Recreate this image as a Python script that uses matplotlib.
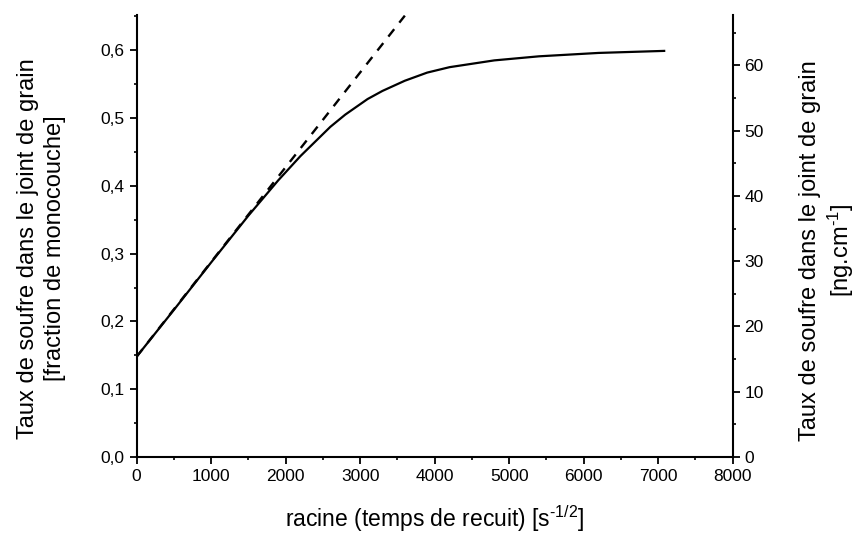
import numpy as np
import matplotlib
matplotlib.use("Agg")
from matplotlib import pyplot as plt
from matplotlib.ticker import MultipleLocator, FuncFormatter

# data
temps = [0, 500, 1000, 1500, 1900, 2200, 2600, 2800, 3100, 3300, 3600, 3900, 4200, 4800, 5400, 6200, 7080]
taux = [0.148, 0.217, 0.287, 0.356, 0.408, 0.444, 0.487, 0.505, 0.528, 0.540, 0.555, 0.567, 0.575, 0.585, 0.591, 0.596, 0.599]
tangente_x = [0, 3600]
tangente_y = [0.148, 0.651]

plt.rcParams['font.family'] = ['Liberation Sans', 'DejaVu Sans']
plt.rcParams['mathtext.default'] = 'regular'

fig = plt.figure(figsize=(8.59, 5.34), dpi=100)
ax = fig.add_axes([0.159, 0.144, 0.694, 0.828])
ax2 = ax.twinx()

ax.plot(temps, taux, color='black', lw=1.6)
ax.plot(tangente_x, tangente_y, color='black', lw=1.7, dashes=(4, 3.5))

ax.set_xlim(0, 8000)
ax.set_ylim(0, 0.652)
ax2.set_ylim(0, 67.7)

ax.xaxis.set_major_locator(MultipleLocator(1000))
ax.xaxis.set_minor_locator(MultipleLocator(500))
ax.yaxis.set_major_locator(MultipleLocator(0.1))
ax.yaxis.set_minor_locator(MultipleLocator(0.05))
ax.yaxis.set_major_formatter(FuncFormatter(lambda v, p: f"{v:.1f}".replace('.', ',')))
ax2.yaxis.set_major_locator(MultipleLocator(10))
ax2.yaxis.set_minor_locator(MultipleLocator(5))

for a in (ax, ax2):
    a.spines['top'].set_visible(False)
    for s in a.spines.values():
        s.set_linewidth(1.5)
    a.tick_params(which='major', length=5, width=1.3, labelsize=12.5, direction='out')
    a.tick_params(which='minor', length=2.5, width=1.2, direction='out')
ax.spines['right'].set_visible(False)
ax2.spines['left'].set_visible(False)
ax2.spines['bottom'].set_visible(False)

ax.set_xlabel("racine (temps de recuit) [s$^{\u2010 1/2}$]", fontsize=16.5)
ax.set_ylabel("Taux de soufre dans le joint de grain\n[fraction de monocouche]",
              fontsize=17, linespacing=1.3)
ax2.set_ylabel("Taux de soufre dans le joint de grain\n[ng.cm$^{\u2010 1}$]",
               fontsize=17, linespacing=1.2)
ax.xaxis.set_label_coords(0.5, -0.105)
ax.yaxis.set_label_coords(-0.119, 0.472)
ax2.yaxis.set_label_coords(1.112, 0.468)

fig.savefig("out.png", dpi=100)
